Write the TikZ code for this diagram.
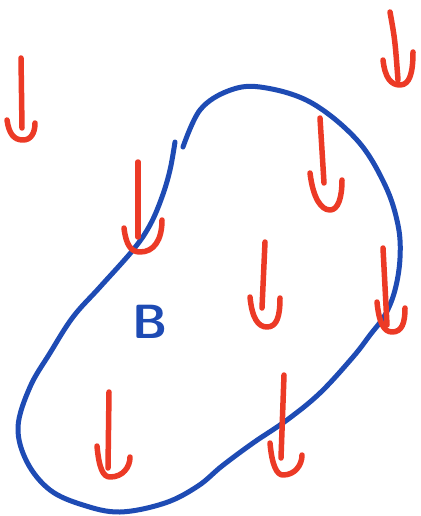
\documentclass[tikz,border=0pt]{standalone}
\usepackage{tikz}

\definecolor{bodyblue}{RGB}{30,75,180}
\definecolor{fieldred}{RGB}{236,58,38}

\begin{document}
\begin{tikzpicture}[x=1pt, y=-1pt,
    bodyline/.style={line width=5pt, bodyblue, line cap=round, line join=round},
    fieldline/.style={line width=5.5pt, fieldred, line cap=round, line join=round}]
    \useasboundingbox (0,0) rectangle (420,516);

    % the body
    \draw[bodyline] plot[smooth, tension=0.6] coordinates {
        (183,147) (200,110) (228,91) (260,87) (310,102) (357,140)
        (385,185) (398,225) (400,258) (395,290) (385,315) (370,335)
        (353,357) (320,393) (287,420) (253,443) (222,466) (198,486)
        (165,503) (120,512) (83,505) (50,490) (27,462) (18,427)
        (30,387) (50,353) (73,317) (100,287) (133,250) (150,225)
        (162,197) (170,170) (175,142)};
    \node[bodyblue, font=\fontsize{48}{48}\selectfont\sffamily\bfseries] (body) at (150,322) {B};

    % field arrows
    \draw[fieldline] (21,58) -- (22,128);
    \draw[fieldline] (7,120) .. controls (9,134) and (14,140) .. (23,140) .. controls (31,140) and (35,133) .. (35,123);

    \draw[fieldline] (390,12) .. controls (395,40) .. (398,80);
    \draw[fieldline] (383,60) .. controls (385,78) and (391,85) .. (400,85) .. controls (410,85) and (413,72) .. (413,52);

    \draw[fieldline] (138,162) -- (138,237);
    \draw[fieldline] (124,228) .. controls (126,245) and (131,252) .. (140,252) .. controls (154,252) and (162,240) .. (162,220);

    \draw[fieldline] (320,118) -- (324,183);
    \draw[fieldline] (310,173) .. controls (313,198) and (321,210) .. (330,210) .. controls (338,210) and (342,198) .. (342,180);

    \draw[fieldline] (265,242) -- (262,308);
    \draw[fieldline] (250,297) .. controls (252,318) and (258,327) .. (267,327) .. controls (277,327) and (280,316) .. (280,298);

    \draw[fieldline] (383,248) -- (387,325);
    \draw[fieldline] (377,302) .. controls (379,323) and (384,332) .. (392,332) .. controls (402,332) and (405,323) .. (405,308);

    \draw[fieldline] (284,375) -- (281,458);
    \draw[fieldline] (270,443) .. controls (272,466) and (277,475) .. (283,475) .. controls (295,475) and (302,465) .. (302,455);

    \draw[fieldline] (109,392) -- (108,468);
    \draw[fieldline] (97,446) .. controls (99,468) and (103,477) .. (110,477) .. controls (123,477) and (130,467) .. (130,457);
\end{tikzpicture}
\end{document}
